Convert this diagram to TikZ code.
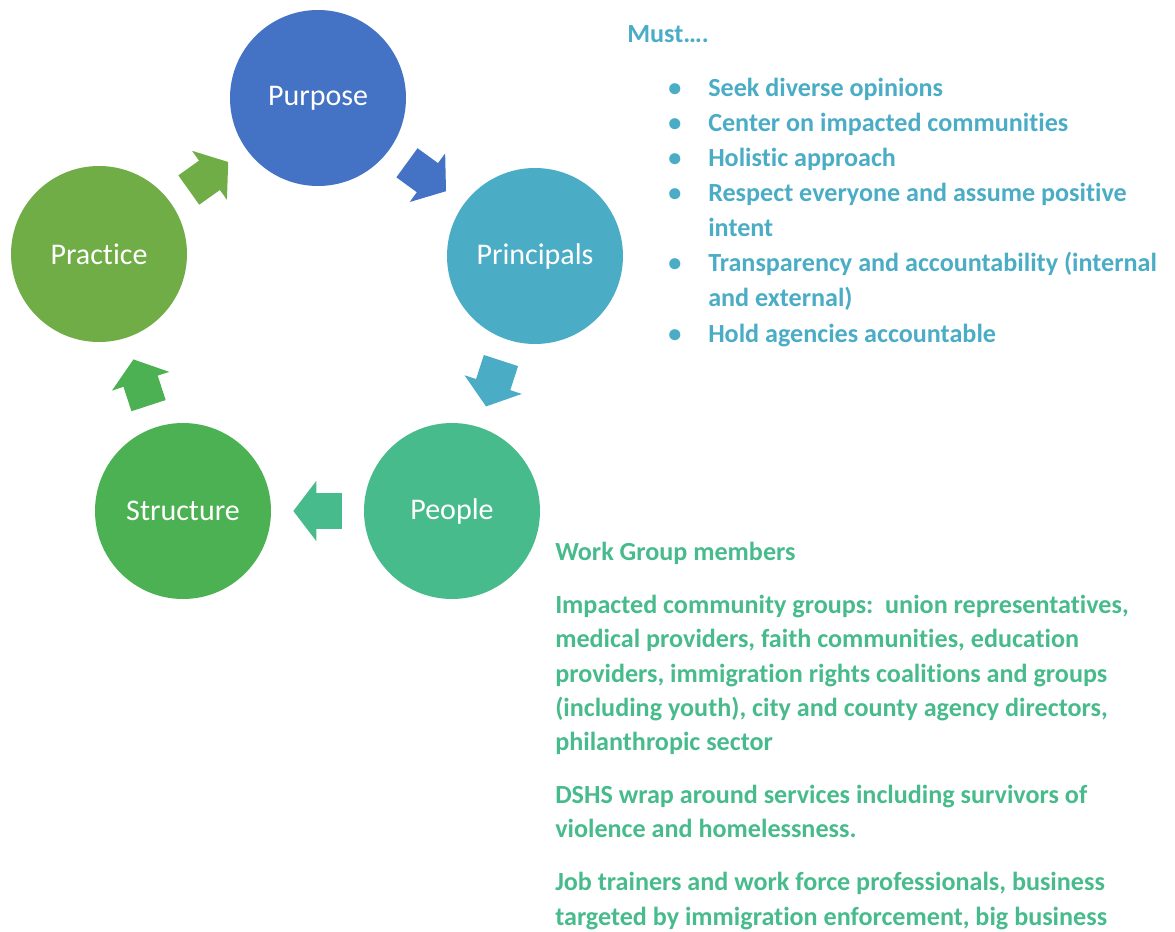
\documentclass[tikz,border=0pt]{standalone}
\usepackage{fontspec}
\setmainfont[Ligatures=CommonOff]{Carlito}
\usepackage{tikz}
\usetikzlibrary{arrows.meta,calc}
\definecolor{purp}{RGB}{68,114,196}
\definecolor{princ}{RGB}{75,172,198}
\definecolor{peop}{RGB}{72,187,140}
\definecolor{struc}{RGB}{75,177,82}
\definecolor{pract}{RGB}{112,173,71}

\begin{document}
\begin{tikzpicture}[x=0.75pt, y=-0.75pt,
	circ/.style={circle, minimum size=132pt, inner sep=0pt, text=white, font=\fontsize{22.5}{27}\selectfont},
	blockarr/.style={line width=27pt, -{Triangle[length=17.25pt, width=44.25pt]}},
	listtext/.style={anchor=base west, align=left, inner sep=0pt, font=\fontsize{19.6}{26.3}\selectfont\bfseries}]
		\useasboundingbox (0,0) rectangle (1175,932);
		\node[circ, fill=purp] (purpose) at (318,98) {Purpose};
		\node[circ, fill=princ] (principals) at (535,256) {Principals};
		\node[circ, fill=peop] (people) at (452,511) {People};
		\node[circ, fill=struc] (structure) at (183,511) {Structure};
		\node[circ, fill=pract] (practice) at (99,254) {Practice};
		\draw[blockarr, purp] ($(purpose)!0.41!(principals)$) -- ($(purpose)!0.59!(principals)$);
		\draw[blockarr, princ] ($(principals)!0.41!(people)$) -- ($(principals)!0.59!(people)$);
		\draw[blockarr, peop] ($(people)!0.41!(structure)$) -- ($(people)!0.59!(structure)$);
		\draw[blockarr, struc] ($(structure)!0.41!(practice)$) -- ($(structure)!0.59!(practice)$);
		\draw[blockarr, pract] ($(practice)!0.41!(purpose)$) -- ($(practice)!0.59!(purpose)$);
		% base of a multi-line node is its last line
		\node[listtext, text=princ] (must) at (627,42) {Must….};
		\node[listtext, text=princ] (mustlist) at (668,342) {\makebox[30pt][l]{•}Seek diverse opinions\\
			\makebox[30pt][l]{•}Center on impacted communities\\
			\makebox[30pt][l]{•}Holistic approach\\
			\makebox[30pt][l]{•}Respect everyone and assume positive\\
			\hspace*{30pt}intent\\
			\makebox[30pt][l]{•}Transparency and accountability (internal\\
			\hspace*{30pt}and external)\\
			\makebox[30pt][l]{•}Hold agencies accountable};
		\node[listtext, text=peop, font=\fontsize{19.6}{25.7}\selectfont\bfseries] (members) at (555,925) {Work Group members\\[14pt]
			Impacted community groups:\ \ union representatives,\\
			medical providers, faith communities, education\\
			providers, immigration rights coalitions and groups\\
			(including youth), city and county agency directors,\\
			philanthropic sector\\[14pt]
			DSHS wrap around services including survivors of\\
			violence and homelessness.\\[14pt]
			Job trainers and work force professionals, business\\
			targeted by immigration enforcement, big business};
	\end{tikzpicture}
\end{document}
